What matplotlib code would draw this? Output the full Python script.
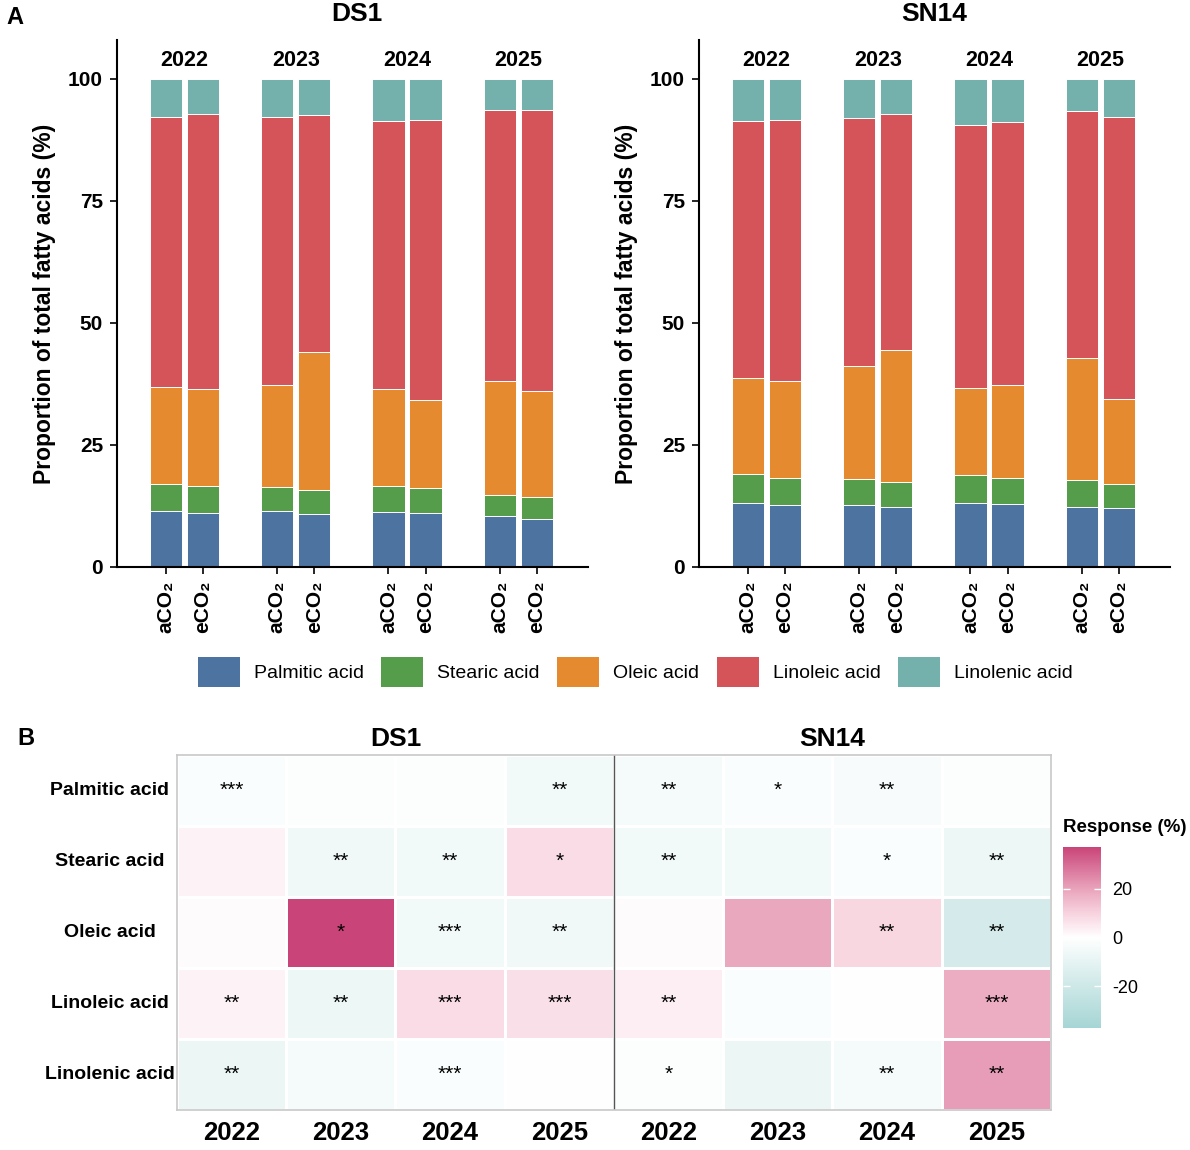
import matplotlib

matplotlib.use("Agg")
import matplotlib.pyplot as plt
import numpy as np
from matplotlib.colors import LinearSegmentedColormap
from matplotlib.patches import Patch
from matplotlib.transforms import blended_transform_factory

plt.rcParams["font.family"] = ["Liberation Sans", "DejaVu Sans"]
plt.rcParams["axes.unicode_minus"] = False

years = ["2022", "2023", "2024", "2025"]
treatments = ["aCO₂", "eCO₂"]
acids = ["Palmitic acid", "Stearic acid", "Oleic acid", "Linoleic acid", "Linolenic acid"]
acid_colors = ["#4D73A0", "#559D4B", "#E68A30", "#D5545A", "#74B1AC"]

# proportions (%) per bar: 2022 a, 2022 e, 2023 a, 2023 e, ...
ds1_palmitic = [11.4, 11.1, 11.4, 10.9, 11.3, 11.1, 10.4, 9.8]
ds1_stearic = [5.5, 5.5, 5.0, 4.8, 5.2, 5.0, 4.4, 4.6]
ds1_oleic = [19.9, 19.9, 20.8, 28.4, 19.9, 18.2, 23.4, 21.6]
ds1_linoleic = [55.3, 56.4, 54.9, 48.6, 54.9, 57.3, 55.5, 57.7]
ds1_linolenic = [7.9, 7.1, 7.9, 7.3, 8.7, 8.4, 6.3, 6.3]

sn14_palmitic = [13.1, 12.7, 12.7, 12.3, 13.1, 12.9, 12.3, 12.1]
sn14_stearic = [6.0, 5.6, 5.4, 5.2, 5.7, 5.4, 5.6, 4.9]
sn14_oleic = [19.7, 19.9, 23.1, 26.9, 17.9, 19.0, 24.9, 17.5]
sn14_linoleic = [52.6, 53.4, 50.7, 48.4, 53.8, 53.8, 50.6, 57.6]
sn14_linolenic = [8.6, 8.4, 8.1, 7.2, 9.5, 8.9, 6.6, 7.9]

# response (%) per acid: DS1 2022..2025, SN14 2022..2025
resp_palmitic = [-2, -1, -1, -5, -4, -2, -3, -1]
resp_stearic = [3, -6, -5, 8, -5, -5, -2, -7]
resp_oleic = [1, 37, -5, -6, 1, 19, 9, -17]
resp_linoleic = [3, -7, 8, 7, 4, -2, 0, 18]
resp_linolenic = [-8, -4, -2, 0, -1, -8, -4, 21]

sig_palmitic = ["***", "", "", "**", "**", "*", "**", ""]
sig_stearic = ["", "**", "**", "*", "**", "", "*", "**"]
sig_oleic = ["", "*", "***", "**", "", "", "**", "**"]
sig_linoleic = ["**", "**", "***", "***", "**", "", "", "***"]
sig_linolenic = ["**", "", "***", "", "*", "", "**", "**"]

fig = plt.figure(figsize=(11.9, 11.5), dpi=100)


def stacked_panel(ax, series):
    x = np.array([3 * g + b for g in range(len(years)) for b in range(len(treatments))])
    bottom = np.zeros(len(x))
    for values, color in zip(series, acid_colors):
        ax.bar(x, values, 0.87, bottom=bottom, color=color, edgecolor="white", linewidth=0.7)
        bottom += np.array(values)
    for g, year in enumerate(years):
        ax.text(3 * g + 0.5, 103.8, year, ha="center", va="center", fontsize=15.5, fontweight="bold")
    ax.set_xlim(-1.32, 11.38)
    ax.set_ylim(0, 108)
    ax.set_yticks([0, 25, 50, 75, 100])
    ax.set_xticks(x, treatments * len(years), rotation=90)
    ax.tick_params(axis="both", labelsize=15, width=1.2, length=5, pad=5)
    for lab in ax.get_xticklabels() + ax.get_yticklabels():
        lab.set_fontweight("bold")
    ax.set_ylabel("Proportion of total fatty acids (%)", fontsize=16.5, fontweight="bold", labelpad=9)
    for side in ("top", "right"):
        ax.spines[side].set_visible(False)
    for side in ("left", "bottom"):
        ax.spines[side].set_linewidth(1.5)


ax_ds1 = fig.add_axes([0.0983, 0.5070, 0.3958, 0.4583])
ax_sn14 = fig.add_axes([0.5874, 0.5070, 0.3958, 0.4583])
stacked_panel(ax_ds1, [ds1_palmitic, ds1_stearic, ds1_oleic, ds1_linoleic, ds1_linolenic])
stacked_panel(ax_sn14, [sn14_palmitic, sn14_stearic, sn14_oleic, sn14_linoleic, sn14_linolenic])
fig.text(0.300, 0.9875, "DS1", ha="center", va="center", fontsize=19, fontweight="bold")
fig.text(0.785, 0.9875, "SN14", ha="center", va="center", fontsize=19, fontweight="bold")

handles = [Patch(facecolor=c, edgecolor="none") for c in acid_colors]
fig.legend(handles, acids, ncol=5, loc="center", bbox_to_anchor=(0.534, 0.4157), frameon=False,
           fontsize=14, handlelength=2.16, handleheight=2.06, handletextpad=0.72, columnspacing=0.9)

fig.text(0.005, 0.985, "A", fontsize=17, fontweight="bold", va="center")
fig.text(0.015, 0.358, "B", fontsize=17, fontweight="bold", va="center")

# heatmap
resp = np.array([resp_palmitic, resp_stearic, resp_oleic, resp_linoleic, resp_linolenic])
sig = [sig_palmitic, sig_stearic, sig_oleic, sig_linoleic, sig_linolenic]
cmap = LinearSegmentedColormap.from_list(
    "resp",
    [(0.0, "#A6D5D5"), (0.23, "#CDE8E7"), (0.5, "#FFFFFF"), (0.635, "#F7D3DE"),
     (0.77, "#E9A3BB"), (1.0, "#C94579")],
)
ax_h = fig.add_axes([0.1487, 0.0348, 0.7345, 0.3087])
mesh = ax_h.pcolormesh(np.arange(9), np.arange(6), resp, cmap=cmap, vmin=-37, vmax=37,
                       edgecolor="white", linewidth=1.0)
ax_h.set_xlim(0, 8)
ax_h.set_ylim(5, 0)
for i in range(len(acids)):
    for j in range(8):
        if sig[i][j]:
            ax_h.text(j + 0.5, i + 0.5, sig[i][j], ha="center", va="center", fontsize=15)
ax_h.axvline(4, color="#555555", linewidth=1)
for spine in ax_h.spines.values():
    spine.set_color("#C8C8C8")
    spine.set_linewidth(1.2)
ax_h.set_xticks(np.arange(8) + 0.5, years * 2)
ax_h.set_yticks([])
ax_h.tick_params(axis="x", length=0, pad=8, labelsize=18.5)
for lab in ax_h.get_xticklabels():
    lab.set_fontweight("bold")
trans = blended_transform_factory(ax_h.transAxes, ax_h.transData)
for i, acid in enumerate(acids):
    ax_h.text(-0.077, i + 0.5, acid, transform=trans, ha="center", va="center",
              fontsize=14, fontweight="bold")
trans_top = blended_transform_factory(ax_h.transData, ax_h.transAxes)
ax_h.text(2, 1.045, "DS1", transform=trans_top, ha="center", va="center", fontsize=19, fontweight="bold")
ax_h.text(6, 1.045, "SN14", transform=trans_top, ha="center", va="center", fontsize=19, fontweight="bold")

cax = fig.add_axes([0.8933, 0.1061, 0.0319, 0.1574])
cbar = fig.colorbar(mesh, cax=cax, ticks=[-20, 0, 20])
cbar.outline.set_visible(False)
cax.tick_params(left=True, right=True, direction="in", color="white", length=5, width=1,
                labelsize=13, pad=8)
fig.text(0.8933, 0.280, "Response (%)", fontsize=13.5, fontweight="bold", va="center")

fig.savefig("out.png", dpi=100)
